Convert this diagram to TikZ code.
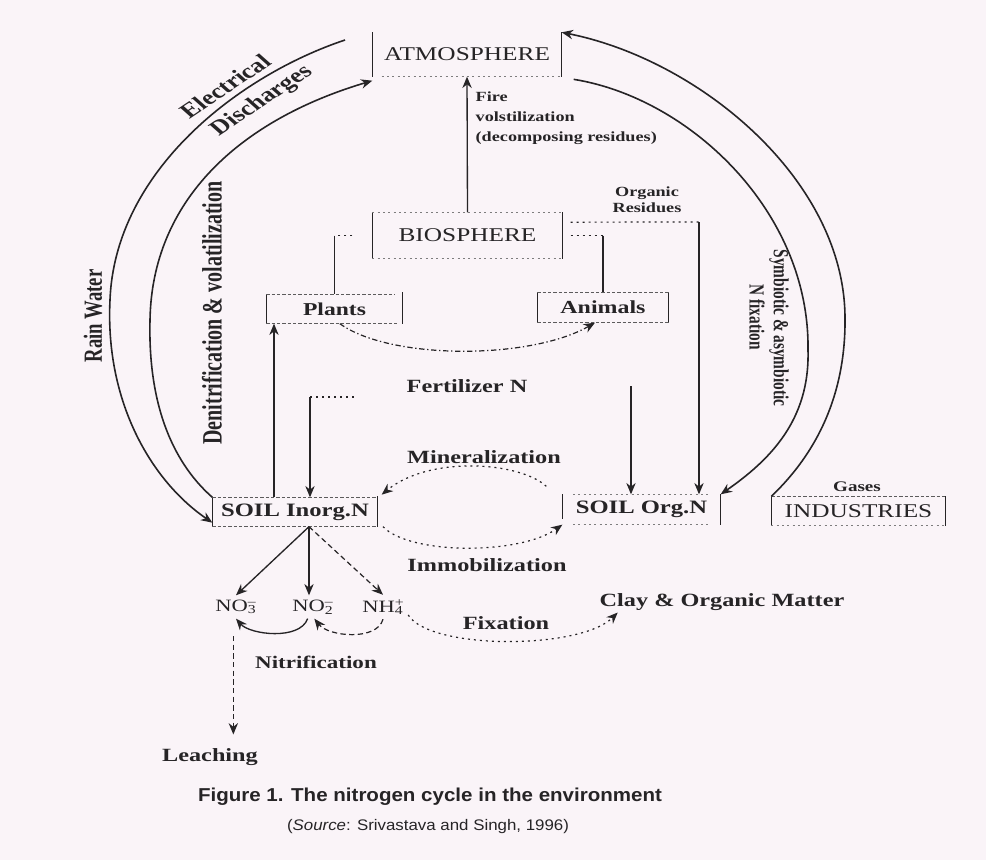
\documentclass[tikz,border=0pt]{standalone}
\usepackage{fontspec}
\usepackage{graphicx}
\setmainfont{Liberation Serif}[FakeStretch=1.3]
\newfontfamily\rotfont{Liberation Serif}
\newfontfamily\capfont{Liberation Sans}[FakeStretch=1.1]
\usetikzlibrary{arrows.meta}
\definecolor{ink}{RGB}{38,36,38}
\definecolor{paper}{RGB}{250,244,248}
\newcommand{\chemion}[3]{#1\rlap{\textsuperscript{#3}}\textsubscript{#2}}
\newcommand{\vst}[1]{\scalebox{1}[1.4]{#1}}
\begin{document}
\begin{tikzpicture}[x=0.75pt,y=-0.75pt,color=ink,line width=1pt,
  arr/.style={-{Stealth[length=8.5pt,width=7pt]}},
  arc/.style={line width=1.2pt},
  side/.style={line width=1.1pt},
  rim/.style={line width=0.7pt, dash pattern=on 2.5pt off 1.5pt, draw=ink!75},
  faint/.style={line width=0.6pt, dash pattern=on 1.5pt off 2.5pt, draw=ink!60},
  dotty/.style={line width=0.9pt, dash pattern=on 1.5pt off 3pt},
  dashy/.style={line width=0.9pt, dash pattern=on 4pt off 2.5pt},
  dashdotty/.style={line width=0.9pt, dash pattern=on 4pt off 2pt on 1pt off 2pt},
  bigbox/.style={inner sep=0pt, font=\fontsize{14.6}{17}\selectfont},
  boldbox/.style={inner sep=0pt, font=\fontsize{14.2}{17}\selectfont\bfseries},
  lbl/.style={inner sep=1pt, font=\fontsize{14}{17}\selectfont\bfseries},
  smalltxt/.style={inner sep=0pt, font=\fontsize{10.5}{12}\selectfont\bfseries},
  chem/.style={inner sep=3pt, font=\fontsize{13}{15}\selectfont},
  rotlbl/.style={inner sep=0pt, font=\rotfont\fontsize{14}{17}\selectfont\bfseries}
]
\useasboundingbox (0,0) rectangle (986,860);
\fill[paper] (0,0) rectangle (986,860);

% ---------- boxes ----------
\node[bigbox, minimum width=141pt, minimum height=32.25pt] (atm) at (467,54.5) {ATMOSPHERE};
\node[bigbox, minimum width=141.75pt, minimum height=33.75pt] (bios) at (467.5,235.5) {BIOSPHERE};
\node[boldbox, font=\fontsize{13.6}{16}\selectfont\bfseries, minimum width=101.25pt, minimum height=21pt] (plants) at (334.5,309) {Plants};
\node[boldbox, font=\fontsize{13.8}{16}\selectfont\bfseries, minimum width=97.5pt, minimum height=21.75pt] (anim) at (603,307.5) {Animals};
\node[boldbox, minimum width=123pt, minimum height=21pt] (sinorg) at (295,512) {SOIL Inorg.N};
\node[boldbox, minimum width=117.75pt, minimum height=21.75pt] (sorg) at (641.5,509.5) {SOIL Org.N};
\node[bigbox, minimum width=129.75pt, minimum height=21pt] (ind) at (858.5,511) {INDUSTRIES};

% box edges
\draw[side] (atm.north west) -- (atm.south west);
\draw[side] (atm.north east) -- (atm.south east);
\draw[faint] ([xshift=7pt]atm.south west) -- (atm.south east);

\draw[side] (bios.north west) -- (bios.south west);
\draw[side] (bios.north east) -- (bios.south east);
\draw[faint] (bios.north west) -- (bios.north east);
\draw[faint] (bios.south west) -- (bios.south east);

\draw[side] (plants.north west) -- (plants.south west);
\draw[side] ([yshift=1.5pt]plants.north east) -- (plants.south east);
\draw[rim] (plants.north west) -- ([xshift=-6pt]plants.north east);
\draw[rim] (plants.south west) -- ([xshift=-4pt]plants.south east);

\draw[side] (anim.north west) -- (anim.south west);
\draw[side] (anim.north east) -- (anim.south east);
\draw[rim] (anim.north west) -- (anim.north east);
\draw[rim] (anim.south west) -- (anim.south east);

\draw[side] (sinorg.north west) -- (sinorg.south west);
\draw[side] ([yshift=1pt]sinorg.north east) -- (sinorg.south east);
\draw[rim] (sinorg.north west) -- (sinorg.north east);
\draw[rim] (sinorg.south west) -- (sinorg.south east);

\draw[side] (sorg.north west) -- ([yshift=4.5pt]sorg.south west);
\draw[side] (sorg.north east) -- (sorg.south east);
\draw[faint] ([xshift=8pt]sorg.north west) -- ([xshift=-8pt]sorg.north east);
\draw[faint] ([xshift=8pt]sorg.south west) -- ([xshift=-8pt]sorg.south east);

\draw[side] (ind.north west) -- (ind.south west);
\draw[side] (ind.north east) -- (ind.south east);
\draw[rim] (ind.north west) -- (ind.north east);
\draw[faint] (ind.south west) -- (ind.south east);

% ---------- text labels ----------
\node[smalltxt, font=\fontsize{10.5}{15}\selectfont\bfseries, anchor=north west, align=left] (fire) at (475,91) {Fire\\volstilization\\(decomposing residues)};
\node[smalltxt, align=center] (orgres) at (647,200) {Organic\\Residues};
\node[smalltxt, font=\fontsize{11}{13}\selectfont\bfseries] (gases) at (857,487) {Gases};
\node[lbl] (fert) at (467,386) {Fertilizer N};
\node[lbl] (mineral) at (484,457) {Mineralization};
\node[lbl] (immob) at (487,565) {Immobilization};
\node[lbl] (fix) at (506,623) {Fixation};
\node[lbl] (clay) at (722,602) {Clay \& Organic Matter};
\node[lbl, font=\fontsize{13.3}{16}\selectfont\bfseries] (nitri) at (316,662) {Nitrification};
\node[lbl] (leach) at (210,757) {Leaching};
\node[chem] (no3) at (236,607) {\chemion{NO}{3}{–}};
\node[chem] (no2) at (313,607) {\chemion{NO}{2}{–}};
\node[chem] (nh4) at (383,607) {\chemion{NH}{4}{+}};

% rotated labels
\node[rotlbl, rotate=90] (rain) at (93,316) {\vst{Rain Water}};
\node[rotlbl, font=\rotfont\fontsize{15}{17}\selectfont\bfseries, rotate=90] (denit) at (212,313) {\vst{Denitrification \& volatilization}};
\node[rotlbl, font=\rotfont\fontsize{11.5}{13}\selectfont\bfseries, rotate=-90] (sym1) at (779,328) {\vst{Symbiotic \& asymbiotic}};
\node[rotlbl, font=\rotfont\fontsize{11.5}{13}\selectfont\bfseries, rotate=-90] (sym2) at (757,317) {\vst{N fixation}};
\node[rotlbl, font=\rotfont\fontsize{15.5}{17}\selectfont\bfseries, xscale=1.3, rotate=41] (elec) at (225,86) {Electrical};
\node[rotlbl, font=\rotfont\fontsize{15.5}{17}\selectfont\bfseries, xscale=1.3, rotate=41] (disc) at (262,101) {Discharges};

% caption
\node[font={\capfont\fontsize{14}{17}\selectfont\bfseries}] (cap) at (430,797) {Figure 1. The nitrogen cycle in the environment};
\node[font={\capfont\fontsize{11.5}{14}\selectfont}] (src) at (428,827) {(\textit{Source}: Srivastava and Singh, 1996)};

% ---------- connectors ----------
% fire volatilization
\draw[arr] (bios.north) -- (atm.south);
% biosphere to plants / animals
\draw[dotty] ([xshift=-15pt]bios.west) -- (bios.west -| plants.north);
\draw (bios.west -| plants.north) -- (plants.north);
\draw[dotty] ([xshift=6pt]bios.east) -- (bios.east -| anim.north);
\draw (bios.east -| anim.north) -- (anim.north);
% organic residues
\coordinate (orgc) at (699,222);
\draw[dotty] ([xshift=6pt,yshift=10pt]bios.east) -- (orgc);
\draw[arr] (orgc) -- (orgc |- sorg.north);
% plants to animals
\draw[dashdotty, arr] ([xshift=4pt]plants.south) .. controls (390,360) and (530,360) .. ([xshift=-6pt]anim.south);
% soil inorganic N to plants
\coordinate (pu) at ([xshift=-15.75pt]sinorg.north);
\draw[arr] (pu) -- (pu |- plants.south);
% fertilizer
\coordinate (fertL) at (310,397);
\draw[dotty] (fertL) -- +(47,0);
\draw[arr] (fertL) -- (fertL |- sinorg.north);
\coordinate (fertR) at (631,386);
\draw[arr] (fertR) -- (fertR |- sorg.north);
% mineralization / immobilization
\draw[dotty, arr] ([xshift=-12pt,yshift=6pt]sorg.north west) .. controls (520,462) and (430,455) .. ([xshift=3pt,yshift=2pt]sinorg.north east);
\draw[dotty, arr] ([xshift=4pt]sinorg.south east) .. controls (410,555) and (520,555) .. (sorg.south west);
% split to ions
\coordinate (split) at ([xshift=10.5pt]sinorg.south);
\draw[arr] (split) -- (no3.north);
\draw[arr] (split) -- (split |- no2.north);
\draw[dashy, arr] (split) -- (nh4.north);
% nitrification
\draw[dashy, arr] (nh4.south) .. controls +(-6,22) and +(14,18) .. ([xshift=1pt]no2.south);
\draw[arr] ([xshift=-4pt]no2.south) .. controls +(-8,22) and +(14,16) .. (no3.south);
% leaching
\coordinate (lt) at ([xshift=-2pt,yshift=-13pt]no3.south);
\coordinate (lb) at ([yshift=9pt]leach.north);
\draw[dashy, arr] (lt) -- (lt |- lb);
% fixation
\draw[dotty, arr] ([yshift=-6pt]nh4.east) .. controls (430,650) and (580,650) .. ([xshift=15pt]clay.south west);

% ---------- big arcs ----------
\coordinate (rwtop) at (345,40);
\draw[arc, arr] (rwtop) .. controls (240,75) and (115,170) .. (110,300) .. controls (105,400) and (150,480) .. ([yshift=-8pt]sinorg.west);
\draw[arc, arr] (sinorg.north west) .. controls (170,460) and (148,400) .. (150,320) .. controls (152,200) and (240,120) .. ([yshift=-3pt]atm.south west);
\draw[arc, arr] (ind.north west) .. controls (820,450) and (846,390) .. (845,317) .. controls (844,180) and (700,60) .. (atm.north east);
\draw[arc, arr] ([xshift=9pt,yshift=-2pt]atm.south east) .. controls (690,98) and (810,212) .. (808,350) .. controls (810,420) and (770,460) .. (sorg.north east);
\end{tikzpicture}
\end{document}
